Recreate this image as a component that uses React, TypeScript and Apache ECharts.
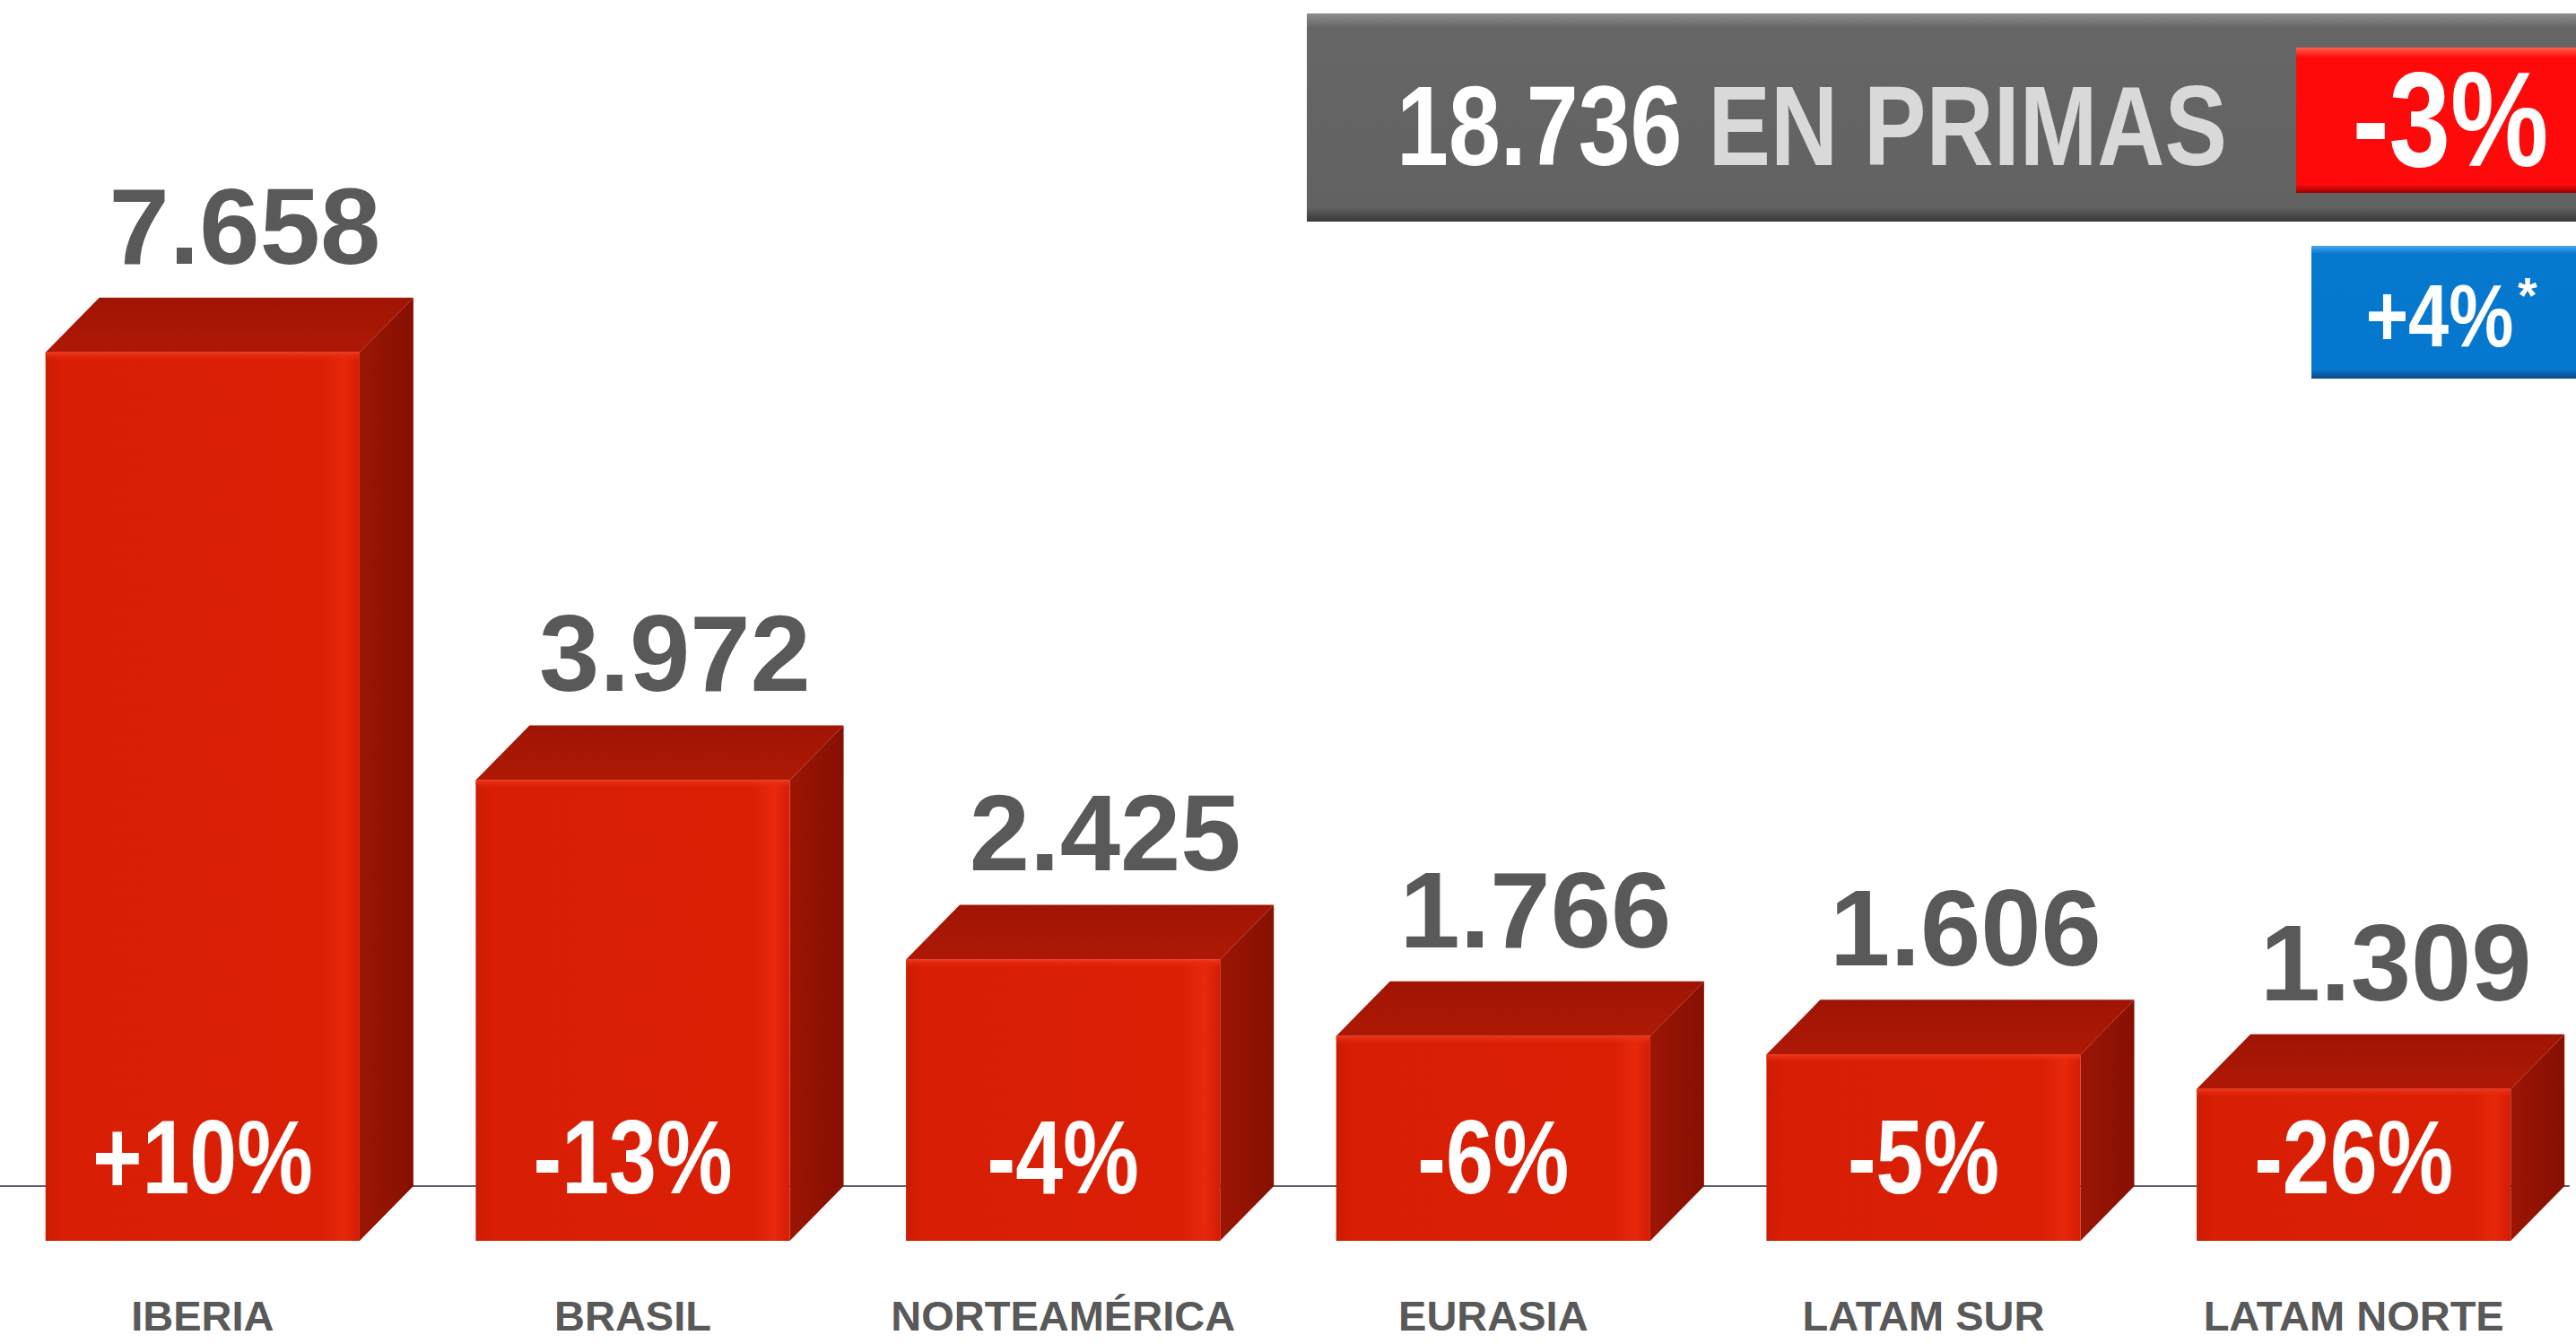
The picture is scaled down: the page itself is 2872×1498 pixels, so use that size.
import React, { useEffect, useRef } from "react";
import * as echarts from "echarts";

// ---- data ----
const categories = ["IBERIA", "BRASIL", "NORTEAMÉRICA", "EURASIA", "LATAM SUR", "LATAM NORTE"];
const primas = [7658, 3972, 2425, 1766, 1606, 1309];
const variacion = [10, -13, -4, -6, -5, -26];
const totalPrimas = 18736;
const totalLabel = "EN PRIMAS";
const totalVariacion = -3;
const variacionConstante = 4;

const SANS = "'Liberation Sans', Arial, sans-serif";
const NARROW_X = 0.82; // horizontal squeeze to imitate the condensed face
const SHIFT = 14; // chart div is shifted left by this many px

const fmtThousands = (v: number) => String(v).replace(/\B(?=(\d{3})+(?!\d))/g, ".");
const fmtPct = (v: number) => (v > 0 ? "+" : "") + v + "%";

export default function App() {
  const ref = useRef<HTMLDivElement>(null);

  useEffect(() => {
    if (!ref.current) return;
    const chart = echarts.init(ref.current, undefined, { renderer: "svg" });
    const LG = echarts.graphic.LinearGradient;

    const data = primas.map((v, i) => [i, v, variacion[i]]);

    const option: any = {
      animation: false,
      backgroundColor: "#ffffff",
      grid: { left: 0, right: 8, top: 29, bottom: 176, containLabel: false },
      xAxis: {
        type: "category",
        data: categories,
        axisLine: { show: true, lineStyle: { color: "#5a606e", width: 2 } },
        axisTick: { show: false },
        axisLabel: {
          show: true,
          margin: 121,
          color: "#595959",
          fontFamily: SANS,
          fontWeight: "bold",
          fontSize: 47,
          interval: 0,
        },
      },
      yAxis: {
        type: "value",
        min: 0,
        max: 10000,
        show: false,
        splitLine: { show: false },
      },
      series: [
        {
          type: "custom",
          data,
          encode: { x: 0, y: 1 },
          clip: false,
          renderItem: (params: any, api: any) => {
            const i = api.value(0);
            const v = api.value(1);
            const ch = api.value(2);
            const top = api.coord([i, v]);
            const base = api.coord([i, 0]);
            const cx = top[0];
            const yTop = top[1];
            const yBase = base[1];
            const band = api.size([1, 0])[0];
            const w = band * 0.73;
            const dx = band * 0.125;
            const dy = 61;
            const xl = cx - w / 2;
            const xr = cx + w / 2;
            const ft = yTop + dy;
            const fb = yBase + dy;
            return {
              type: "group",
              children: [
                {
                  type: "polygon",
                  shape: { points: [[xl, ft], [xl + dx, yTop], [xr + dx, yTop], [xr, ft]] },
                  style: {
                    fill: new LG(0, 0, 0, 1, [
                      { offset: 0, color: "#a01404" },
                      { offset: 1, color: "#ae1906" },
                    ]),
                  },
                },
                {
                  type: "polygon",
                  shape: { points: [[xr, ft], [xr + dx, yTop], [xr + dx, yBase], [xr, fb]] },
                  style: {
                    fill: new LG(0, 0, 1, 0, [
                      { offset: 0, color: "#9c1504" },
                      { offset: 1, color: "#861002" },
                    ]),
                  },
                },
                {
                  type: "rect",
                  shape: { x: xl, y: ft, width: w, height: fb - ft },
                  style: {
                    fill: new LG(0, 0, 1, 0, [
                      { offset: 0, color: "#cc1b04" },
                      { offset: 0.05, color: "#d81e05" },
                      { offset: 0.88, color: "#da1f05" },
                      { offset: 0.95, color: "#e8280b" },
                      { offset: 1, color: "#d31d05" },
                    ]),
                  },
                },
                {
                  type: "rect",
                  shape: { x: xl, y: ft, width: w, height: 9 },
                  style: {
                    fill: new LG(0, 0, 0, 1, [
                      { offset: 0, color: "#f0361c" },
                      { offset: 1, color: "rgba(230,40,12,0)" },
                    ]),
                  },
                },
                {
                  type: "text",
                  silent: true,
                  x: cx + 47,
                  y: yTop - 80,
                  style: {
                    text: fmtThousands(v),
                    x: 0,
                    y: 0,
                    align: "center",
                    verticalAlign: "middle",
                    fill: "#595959",
                    fontFamily: SANS,
                    fontWeight: "bold",
                    fontSize: 121,
                  },
                },
                {
                  type: "text",
                  silent: true,
                  x: cx,
                  y: yBase - 32,
                  scaleX: NARROW_X,
                  style: {
                    text: fmtPct(ch),
                    x: 0,
                    y: 0,
                    align: "center",
                    verticalAlign: "middle",
                    fill: "#ffffff",
                    fontFamily: SANS,
                    fontWeight: "bold",
                    fontSize: 116,
                  },
                },
              ],
            };
          },
        },
      ],
      graphic: [
        {
          type: "rect",
          shape: { x: 1457 + SHIFT, y: 15, width: 1430, height: 232 },
          style: {
            fill: new LG(0, 0, 0, 1, [
              { offset: 0, color: "#8e8e8e" },
              { offset: 0.07, color: "#666666" },
              { offset: 0.93, color: "#626262" },
              { offset: 0.97, color: "#4a4a4a" },
              { offset: 1, color: "#3a3a3a" },
            ]),
          },
        },
        {
          type: "text",
          x: 1557 + SHIFT,
          y: 140,
          scaleX: NARROW_X,
          style: {
            text: "{a|" + fmtThousands(totalPrimas) + "} {b|" + totalLabel + "}",
            x: 0,
            y: 0,
            align: "left",
            verticalAlign: "middle",
            fontFamily: SANS,
            fontWeight: "bold",
            fontSize: 127,
            rich: {
              a: { fill: "#ffffff", fontFamily: SANS, fontWeight: "bold", fontSize: 127 },
              b: { fill: "#d9d9d9", fontFamily: SANS, fontWeight: "bold", fontSize: 127 },
            },
          },
        },
        {
          type: "rect",
          shape: { x: 2560 + SHIFT, y: 53, width: 330, height: 162 },
          style: {
            fill: new LG(0, 0, 0, 1, [
              { offset: 0, color: "#ff6050" },
              { offset: 0.07, color: "#ff0a0a" },
              { offset: 0.94, color: "#ff0a0a" },
              { offset: 1, color: "#9a0000" },
            ]),
          },
        },
        {
          type: "text",
          x: 2732 + SHIFT,
          y: 133,
          scaleX: NARROW_X,
          style: {
            text: fmtPct(totalVariacion),
            x: 0,
            y: 0,
            align: "center",
            verticalAlign: "middle",
            fill: "#ffffff",
            fontFamily: SANS,
            fontWeight: "bold",
            fontSize: 150,
          },
        },
        {
          type: "rect",
          shape: { x: 2577 + SHIFT, y: 274, width: 310, height: 148 },
          style: {
            fill: new LG(0, 0, 0, 1, [
              { offset: 0, color: "#4aa5f0" },
              { offset: 0.06, color: "#0678ce" },
              { offset: 0.93, color: "#0677ce" },
              { offset: 1, color: "#0a4a86" },
            ]),
          },
        },
        {
          type: "text",
          x: 2720 + SHIFT,
          y: 352,
          scaleX: NARROW_X,
          style: {
            text: fmtPct(variacionConstante),
            x: 0,
            y: 0,
            align: "center",
            verticalAlign: "middle",
            fill: "#ffffff",
            fontFamily: SANS,
            fontWeight: "bold",
            fontSize: 99,
          },
        },
        {
          type: "text",
          x: 2818 + SHIFT,
          y: 328,
          style: {
            text: "*",
            x: 0,
            y: 0,
            align: "center",
            verticalAlign: "middle",
            fill: "#ffffff",
            fontFamily: SANS,
            fontWeight: "bold",
            fontSize: 56,
          },
        },
      ],
    };

    chart.setOption(option);
    return () => chart.dispose();
  }, []);

  return (
    <div
      ref={ref}
      style={{
        position: "fixed",
        left: -SHIFT,
        top: 0,
        width: 2872 + SHIFT,
        height: 1498,
        background: "#fff",
      }}
    />
  );
}
